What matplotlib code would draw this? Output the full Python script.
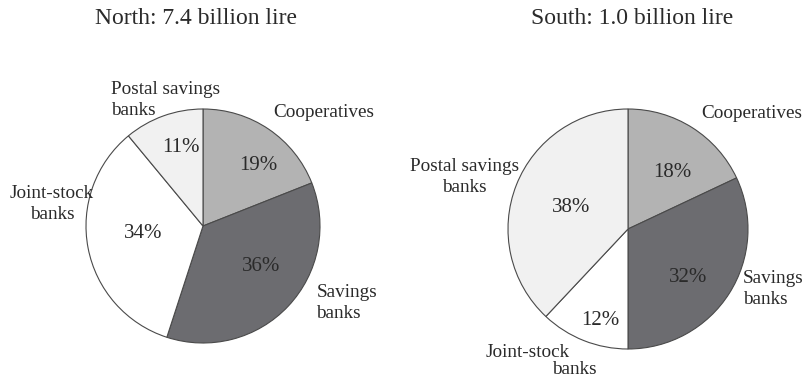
import matplotlib.pyplot as plt

plt.rcParams['font.family'] = ['Liberation Serif', 'DejaVu Serif']

categories = ["Cooperatives", "Savings banks", "Joint-stock banks", "Postal savings banks"]
north_values = [19, 36, 34, 11]
south_values = [18, 32, 12, 38]
north_title = "North: 7.4 billion lire"
south_title = "South: 1.0 billion lire"

colors = ["#b3b3b3", "#6c6c70", "#ffffff", "#f1f1f1"]
txt = "#2a2a2a"

W, H = 806, 380
fig = plt.figure(figsize=(W / 100, H / 100), dpi=100)


def pie_axes(cx, cy, r):
    ax = fig.add_axes([(cx - r) / W, (H - cy - r) / H, 2 * r / W, 2 * r / H])
    ax.set_xlim(-1, 1)
    ax.set_ylim(-1, 1)
    ax.set_aspect("equal")
    ax.axis("off")
    return ax


def draw(ax, values, pct_pos):
    ax.pie(values, colors=colors, startangle=90, counterclock=False, radius=1,
           wedgeprops=dict(edgecolor="#4a4a4a", linewidth=0.8))
    ax.set_xlim(-1, 1)
    ax.set_ylim(-1, 1)
    for v, (x, y) in zip(values, pct_pos):
        ax.text(x, y, f"{v}%", ha="center", va="center", fontsize=15, color=txt)


# North
axn = pie_axes(203, 226, 117)
draw(axn, north_values, [(0.47, 0.52), (0.50, -0.35), (-0.51, -0.06), (-0.19, 0.67)])
kw = dict(fontsize=13.8, color=txt, va="center", clip_on=False, linespacing=1.3)
axn.text(1.03, 0.97, "Cooperatives", ha="center", **kw)
axn.text(0.97, -0.66, "Savings\nbanks", ha="left", multialignment="left", **kw)
axn.text(-1.29, 0.19, "Joint-stock\nbanks", ha="center", multialignment="center", **kw)
axn.text(-0.79, 1.08, "Postal savings\nbanks", ha="left", multialignment="left", **kw)

# South
axs = pie_axes(628, 229, 120)
draw(axs, south_values, [(0.37, 0.47), (0.50, -0.40), (-0.23, -0.76), (-0.47, 0.18)])
axs.text(1.03, 0.96, "Cooperatives", ha="center", **kw)
axs.text(0.96, -0.50, "Savings\nbanks", ha="left", multialignment="left", **kw)
axs.text(-1.36, 0.43, "Postal savings\nbanks", ha="center", multialignment="center", **kw)
axs.text(-0.84, -1.03, "Joint-stock", ha="center", **kw)
axs.text(-0.45, -1.17, "banks", ha="center", **kw)

fig.text(196 / W, 1 - 18 / H, north_title, ha="center", va="center", fontsize=17, color=txt)
fig.text(632 / W, 1 - 18 / H, south_title, ha="center", va="center", fontsize=17, color=txt)

fig.savefig("out.png", dpi=100, facecolor="white")
